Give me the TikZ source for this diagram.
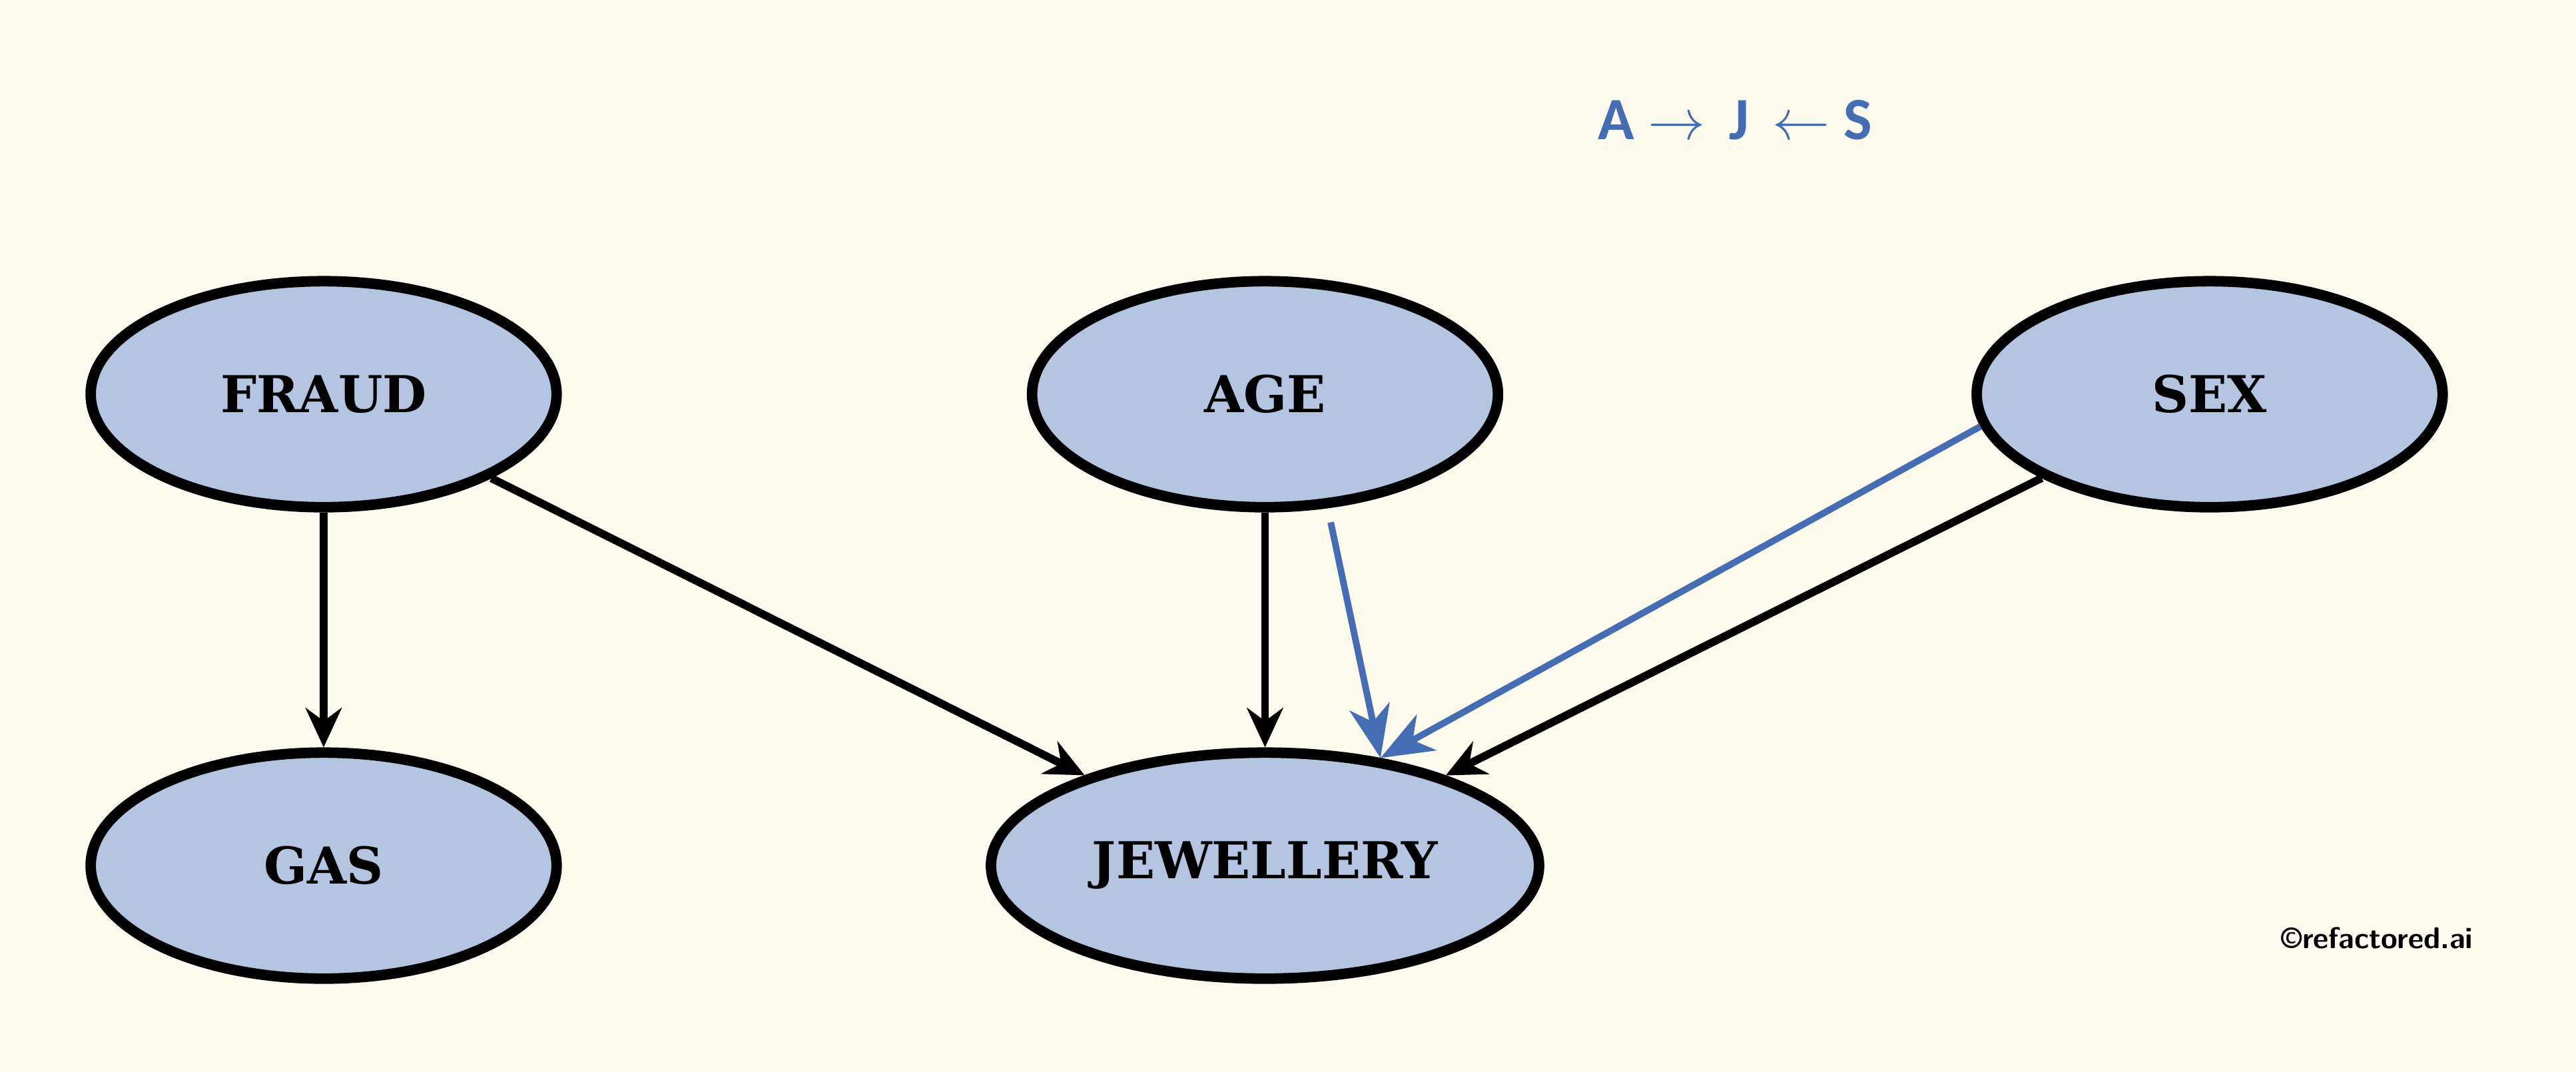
\documentclass[tikz,border=0pt]{standalone}
\usepackage{fontspec}
\usetikzlibrary{shapes.geometric}
\usetikzlibrary{arrows.meta}
\newfontfamily\nodefont{DejaVu Serif}
\newfontfamily\labfont{Carlito}
\definecolor{paper}{RGB}{252,250,237}
\definecolor{nodeblue}{RGB}{180,197,226}
\definecolor{edgeblue}{RGB}{69,109,179}

\begin{document}
\begin{tikzpicture}[var/.style={ellipse, draw, line width=0.16cm, fill=nodeblue, inner sep=0pt,
		minimum width=7.09cm, minimum height=3.44cm, font=\nodefont\bfseries\fontsize{22}{26}\selectfont},
	edge/.style={line width=0.12cm, black, -{Stealth[length=0.6cm,width=0.55cm,inset=0.2cm]}},
	blueedge/.style={line width=0.1cm, edgeblue, -{Stealth[length=0.8cm,width=0.62cm,inset=0.24cm]}}]
		\fill[paper] (0,0) rectangle (39.2,-16.316);
		\useasboundingbox (0,0) rectangle (39.2,-16.316);
		\path (4.925,-6) node(f)[var]{FRAUD}
		(19.25,-6) node(a)[var]{AGE}
		(33.625,-6) node(s)[var]{SEX}
		(4.925,-13.175) node(g)[var]{GAS}
		(19.25,-13.175) node(j)[var, minimum width=8.34cm]{JEWELLERY};
		\path (26.4,-1.825) node(t)[text=edgeblue, font=\labfont\bfseries\fontsize{26}{30}\selectfont]{A $\rightarrow$\, J\, $\leftarrow$ S}
		(36.175,-14.275) node(c)[font=\sffamily\bfseries\fontsize{13}{15}\selectfont]{\textcopyright refactored.ai};
		\draw[edge] (f) to (g);
		\draw[edge] (f) to (j);
		\draw[edge] (a) to (j);
		\draw[edge] (s) to (j);
		\coordinate (a0) at ([shift={(1cm,-0.15cm)}]a.south);
		\draw[blueedge] (a0) to (j.43);
		\draw[blueedge] (s.188) to (j.43);
	
 \end{tikzpicture}
\end{document}
